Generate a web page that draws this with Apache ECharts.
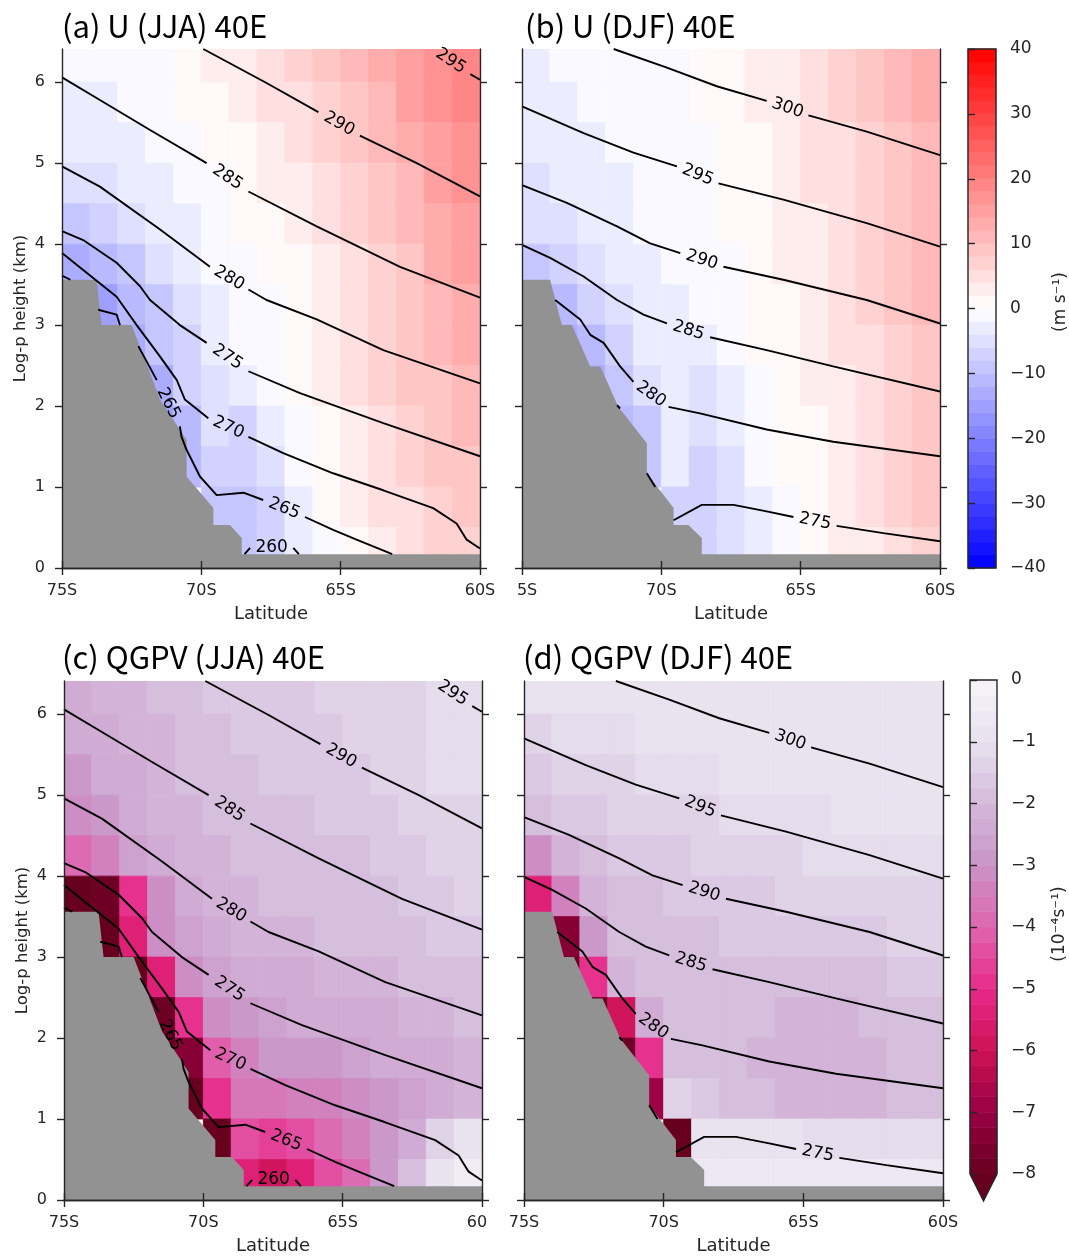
<!DOCTYPE html>
<html lang="en">
<head>
  <meta charset="UTF-8">
  <title>U and QGPV sections at 40E</title>
  <style>
    html, body {
      margin: 0;
      padding: 0;
      background: #fff;
    }
    #main {
      width: 1069px;
      height: 1256px;
    }
  </style>
  <script src="https://cdn.jsdelivr.net/npm/echarts@6.0.0/dist/echarts.min.js"></script>
</head>
<body>
<div id="main"></div>

<script>
  // grid of the shaded fields: cell centres (1 deg x 0.5 km), rows listed top to bottom
  var lats = [-74.5, -73.5, -72.5, -71.5, -70.5, -69.5, -68.5, -67.5, -66.5, -65.5, -64.5, -63.5, -62.5, -61.5, -60.5];
  var heights = [6.25, 5.75, 5.25, 4.75, 4.25, 3.75, 3.25, 2.75, 2.25, 1.75, 1.25, 0.75, 0.25];

  // zonal wind, m/s (null = below ground)
  var uJJA = [
    [-2, -1.5, -1, -0.3, 0.8, 2, 3.4, 5, 6.8, 8.7, 10.7, 12.9, 15, 17, 19.5],
    [-3, -2.4, -1.7, -0.9, 0, 1.2, 2.6, 4.1, 5.8, 7.7, 9.7, 11.8, 14, 16, 18],
    [-4, -3.3, -2.5, -1.5, -0.5, 0.6, 1.8, 3.2, 4.9, 6.7, 8.7, 10.8, 12.9, 15, 17],
    [-6, -5, -3.7, -2.4, -1.3, -0.2, 0.9, 2.3, 3.9, 5.7, 7.7, 9.8, 11.9, 14, 16],
    [-9, -7.5, -5.5, -3.7, -2.2, -1, 0, 1.3, 2.9, 4.7, 6.7, 8.8, 10.9, 13, 15],
    [-14, -12, -8.5, -5.8, -3.6, -2, -0.9, 0.2, 1.8, 3.6, 5.6, 7.7, 9.8, 12, 14],
    [null, -15, -12, -8.5, -5.5, -3.2, -1.6, -0.2, 1.6, 3.5, 5.4, 7.4, 9.4, 11.3, 13],
    [null, null, -13.5, -10, -6.5, -3.8, -2, -0.6, 1, 2.9, 4.8, 6.8, 8.7, 10.5, 12],
    [null, null, null, -14, -8, -4.5, -2.6, -1, 0.4, 2.2, 4.1, 6.1, 8, 9.8, 11],
    [null, null, null, -15, -11, -6, -7, -3, -0.2, 1.6, 3.5, 5.4, 7.2, 8.9, 10],
    [null, null, null, null, -11, -7, -8, -5, -1.5, 0.8, 2.8, 4.7, 6.5, 8, 9],
    [null, null, null, null, null, -10, -9, -7, -3, 0, 2.1, 4, 5.7, 7.1, 8],
    [null, null, null, null, null, null, -9.5, -8, -3.5, -0.5, 1.5, 3.4, 5, 6.4, 7.5]
  ];
  var uDJF = [
    [-2.5, -2, -1.6, -1.2, -0.7, -0.2, 0.5, 1.3, 2.3, 3.5, 5, 6.6, 8.4, 10.4, 12.5],
    [-2.8, -2.3, -1.9, -1.5, -1, -0.5, 0.2, 1, 2, 3.2, 4.6, 6.2, 8, 10, 12],
    [-3.3, -2.8, -2.3, -1.8, -1.3, -0.8, -0.1, 0.7, 1.7, 2.9, 4.3, 5.9, 7.6, 9.6, 11.6],
    [-4.3, -3.6, -2.9, -2.2, -1.6, -1.1, -0.4, 0.4, 1.4, 2.6, 4, 5.5, 7.2, 9.2, 11.2],
    [-6, -5, -3.8, -2.8, -2, -1.4, -0.7, 0.1, 1.1, 2.3, 3.6, 5.1, 6.8, 8.8, 10.8],
    [-9, -7.5, -5.2, -3.6, -2.6, -1.8, -1, -0.2, 0.8, 2, 3.3, 4.8, 6.5, 8.4, 10.4],
    [null, -11, -8, -5, -3.4, -2.3, -1.5, -0.6, 0.4, 1.6, 2.9, 4.4, 6.1, 8, 10],
    [null, -13, -11, -6.5, -4, -3, -3.5, -1.5, 0, 1.2, 2.5, 4, 5.7, 7.6, 9.6],
    [null, null, -13, -9, -5, -3, -5, -2.5, -0.5, 0.8, 2.1, 3.6, 5.3, 7.2, 9.2],
    [null, null, null, -12, -9, -3, -6, -3.5, -1, 0.4, 1.7, 3.2, 4.9, 6.8, 8.8],
    [null, null, null, null, -9.5, -3.5, -6.5, -4.5, -1.5, 0, 1.3, 2.8, 4.5, 6.4, 8.4],
    [null, null, null, null, null, -7, -7, -5.5, -2.5, -0.5, 0.9, 2.4, 4.1, 6, 8],
    [null, null, null, null, null, null, -6.5, -5, -2.5, -0.8, 0.5, 2, 3.7, 5.6, 7.8]
  ];

  // QGPV, 1e-4 /s
  var qJJA = [
    [-2.3, -2.2, -2.1, -2.0, -1.9, -1.7, -1.7, -1.6, -1.6, -1.5, -1.5, -1.4, -1.3, -1.2, -1.2],
    [-2.5, -2.3, -2.2, -2.1, -2.0, -1.8, -1.7, -1.7, -1.6, -1.6, -1.5, -1.4, -1.3, -1.2, -1.1],
    [-2.8, -2.5, -2.3, -2.1, -2.0, -1.9, -1.8, -1.7, -1.7, -1.6, -1.6, -1.5, -1.3, -1.2, -1.1],
    [-3.2, -2.8, -2.4, -2.2, -2.1, -2.0, -1.9, -1.8, -1.8, -1.7, -1.7, -1.6, -1.5, -1.4, -1.3],
    [-3.9, -3.3, -2.7, -2.3, -2.2, -2.1, -2.0, -1.9, -1.9, -1.8, -1.8, -1.7, -1.6, -1.5, -1.4],
    [-8.5, -8, -5, -3.2, -2.4, -2.2, -2.1, -2.0, -2.0, -1.9, -1.9, -1.8, -1.7, -1.6, -1.5],
    [null, -8.5, -5.5, -3.2, -2.6, -2.3, -2.2, -2.1, -2.1, -2.0, -2.0, -1.9, -1.8, -1.7, -1.6],
    [null, null, -8.5, -5.5, -3.2, -2.6, -2.4, -2.3, -2.3, -2.2, -2.2, -2.1, -2.0, -1.9, -1.8],
    [null, null, null, -8, -5, -3.2, -2.8, -2.6, -2.5, -2.4, -2.3, -2.3, -2.2, -2.1, -2.0],
    [null, null, null, -8.5, -7.5, -4.2, -3.4, -3, -2.9, -2.8, -2.7, -2.5, -2.4, -2.3, -2.2],
    [null, null, null, null, -8.5, -4.8, -3.6, -3.7, -3.5, -3.3, -3.1, -2.9, -2.7, -2.4, -2.1],
    [null, null, null, null, null, -8.5, -4.5, -4.6, -4.3, -3.9, -3.4, -2.9, -2.3, -1.5, -0.8],
    [null, null, null, null, null, null, -5.5, -6, -5.5, -4.5, -3.8, -3, -2, -1, -0.4]
  ];
  var qDJF = [
    [-1.0, -0.9, -0.9, -0.85, -0.85, -0.8, -0.8, -0.8, -0.8, -0.8, -0.8, -0.8, -0.8, -0.8, -0.8],
    [-1.3, -1.2, -1.1, -1.05, -1.0, -0.95, -0.9, -0.9, -0.85, -0.85, -0.85, -0.8, -0.8, -0.8, -0.8],
    [-1.6, -1.5, -1.4, -1.3, -1.25, -1.15, -1.1, -1.0, -0.95, -0.9, -0.9, -0.9, -0.85, -0.85, -0.85],
    [-2.0, -1.7, -1.6, -1.5, -1.45, -1.4, -1.3, -1.2, -1.15, -1.1, -1.05, -1.0, -1.0, -0.95, -0.95],
    [-3.2, -2.2, -1.8, -1.7, -1.6, -1.55, -1.5, -1.4, -1.35, -1.3, -1.25, -1.2, -1.15, -1.1, -1.1],
    [-5.5, -3.5, -2.2, -1.9, -1.8, -1.7, -1.65, -1.6, -1.55, -1.5, -1.45, -1.4, -1.35, -1.3, -1.3],
    [null, -7.5, -2.8, -2.0, -1.9, -1.8, -1.8, -1.75, -1.7, -1.7, -1.65, -1.6, -1.55, -1.5, -1.5],
    [null, -8.5, -5, -2.2, -2.0, -1.9, -1.9, -1.9, -1.85, -1.9, -1.9, -1.85, -1.8, -1.75, -1.7],
    [null, null, -8.5, -6, -2.3, -1.9, -2.0, -2.0, -2.0, -2.1, -2.1, -2.1, -2.0, -1.9, -1.8],
    [null, null, null, -8, -5, -1.9, -1.9, -2.0, -2.1, -2.2, -2.2, -2.2, -2.1, -2.0, -1.9],
    [null, null, null, null, -7, -1.5, -1.6, -1.9, -2.0, -2.1, -2.2, -2.2, -2.1, -2.0, -1.9],
    [null, null, null, null, null, -8.5, -1.0, -0.9, -0.9, -1.0, -1.1, -1.1, -1.1, -1.1, -1.1],
    [null, null, null, null, null, null, -0.7, -0.6, -0.6, -0.6, -0.6, -0.6, -0.6, -0.6, -0.6]
  ];

  // ground outline [lat, km]
  var terrainJJA = [[-75, 3.56], [-73.76, 3.56], [-73.58, 3.0], [-72.5, 3.0], [-71.48, 2.08], [-70.53, 1.58],
    [-70.53, 1.13], [-69.57, 0.74], [-69.57, 0.53], [-68.97, 0.53], [-68.55, 0.37], [-68.55, 0.17], [-60, 0.17]];
  var terrainDJF = [[-75, 3.56], [-73.99, 3.56], [-73.57, 3.0], [-73.21, 3.0], [-72.55, 2.49], [-72.19, 2.49],
    [-71.54, 1.99], [-70.52, 1.54], [-70.52, 1.17], [-69.56, 0.74], [-69.56, 0.53], [-69.03, 0.53],
    [-68.55, 0.37], [-68.55, 0.17], [-60, 0.17]];

  // potential temperature contours [lat, km], null = break in the line
  var jja295 = [[-61.75, 6.42], null, [-60.35, 6.1], [-60, 6.03]];
  var jja290 = [[-69.93, 6.41], [-67.66, 5.99], [-65.8, 5.63], null, [-64.31, 5.34], [-62.27, 5.0], [-60, 4.59]];
  var jja285 = [[-75, 6.06], [-73.64, 5.78], [-71.84, 5.41], [-69.81, 5.0], null, [-68.31, 4.65], [-65.86, 4.22], [-62.87, 3.72], [-60, 3.34]];
  var jja280 = [[-75, 4.96], [-73.64, 4.71], [-71.48, 4.18], [-69.69, 3.72], null, [-68.31, 3.44], [-67.66, 3.31], [-65.86, 3.07], [-63.47, 2.69], [-60, 2.28]];
  var jja275 = [[-75, 4.16], [-74.24, 4.05], [-73.04, 3.77], [-72.2, 3.48], [-71.84, 3.31], [-70.77, 3.0], [-69.81, 2.78], null,
    [-68.31, 2.43], [-66.46, 2.16], [-63.47, 1.79], [-60, 1.38]];
  var jja270 = [[-75, 3.89], [-74.24, 3.68], [-73.04, 3.35], [-72.32, 3.0], [-71.48, 2.61], [-70.88, 2.32], [-70.59, 2.08], [-69.75, 1.85], null,
    [-68.31, 1.62], [-67.06, 1.42], [-65.27, 1.17], [-63.47, 0.96], [-61.68, 0.74], [-60.84, 0.55], [-60.48, 0.35], [-60, 0.24]];
  var jja265 = [[-75, 3.61], [-74.7, 3.56], null, [-73.7, 3.19], [-73.04, 3.13], [-72.92, 3.0], null, [-72.26, 2.74], [-71.6, 2.32], null,
    [-70.77, 1.75], [-70.71, 1.62], [-70.53, 1.46], [-70.05, 1.13], [-69.45, 0.9], [-68.49, 0.93], [-67.78, 0.84], null,
    [-66.28, 0.63], [-65.27, 0.47], [-64.43, 0.35], [-63.15, 0.17]];
  var jja260 = [[-68.45, 0.17], [-68.25, 0.25], null, [-66.7, 0.25], [-66.5, 0.17]];

  var djf300 = [[-71.71, 6.41], [-69.8, 6.18], [-68.01, 5.95], [-66.22, 5.77], null, [-64.72, 5.59], [-62.63, 5.39], [-60, 5.1]];
  var djf295 = [[-75, 5.7], [-72.79, 5.37], [-71, 5.13], [-69.44, 4.96], null, [-67.95, 4.75], [-65.62, 4.55], [-62.63, 4.26], [-60, 3.97]];
  var djf290 = [[-75, 4.73], [-73.39, 4.51], [-71.59, 4.22], [-70.4, 4.01], [-69.32, 3.89], null, [-67.77, 3.72], [-65.62, 3.56], [-62.63, 3.31], [-60, 3.02]];
  var djf285 = [[-75, 3.99], [-73.99, 3.83], [-72.79, 3.6], [-71.59, 3.31], [-70.64, 3.13], [-69.8, 3.02], null,
    [-68.25, 2.85], [-66.22, 2.69], [-63.83, 2.49], [-60, 2.18]];
  var djf280 = [[-73.81, 3.31], [-72.91, 3.07], [-72.55, 2.88], [-72.07, 2.78], [-71.48, 2.49], [-71.0, 2.3], null,
    [-69.74, 1.99], [-68.61, 1.91], [-66.22, 1.71], [-63.83, 1.56], [-60, 1.38]];
  var djf275 = [[-71.59, 2.01], [-71.48, 1.97], null, [-70.52, 1.17], [-70.22, 1.0], null, [-69.56, 0.59], [-68.55, 0.78],
    [-67.41, 0.78], [-66.22, 0.7], [-65.26, 0.63], null, [-63.71, 0.52], [-62.03, 0.43], [-60, 0.33]];

  // inline contour labels: the two ends of the gap [lat1, km1, lat2, km2, value]
  var labelsJJA = [
    [-61.75, 6.42, -60.35, 6.1, 295],
    [-65.8, 5.63, -64.31, 5.34, 290],
    [-69.81, 5.0, -68.31, 4.65, 285],
    [-69.69, 3.72, -68.31, 3.44, 280],
    [-69.81, 2.78, -68.31, 2.43, 275],
    [-69.75, 1.85, -68.31, 1.62, 270],
    [-71.6, 2.32, -70.77, 1.75, 265],
    [-67.78, 0.84, -66.28, 0.63, 265],
    [-68.25, 0.25, -66.7, 0.25, 260]
  ];
  var labelsDJF = [
    [-66.22, 5.77, -64.72, 5.59, 300],
    [-69.44, 4.96, -67.95, 4.75, 295],
    [-69.32, 3.89, -67.77, 3.72, 290],
    [-69.8, 3.02, -68.25, 2.85, 285],
    [-71.0, 2.3, -69.74, 1.99, 280],
    [-65.26, 0.63, -63.71, 0.52, 275]
  ];

  var contoursJJA = [jja295, jja290, jja285, jja280, jja275, jja270, jja265, jja260];
  var contoursDJF = [djf300, djf295, djf290, djf285, djf280, djf275];

  var yTicks = [0, 1, 2, 3, 4, 5, 6];
  var uStep = 2;      // colour interval of U
  var qStep = 0.25;   // colour interval of QGPV

  // ---------------------------------------------------------------
  var FONT = 'DejaVu Sans';
  var INK = '#262626';
  var GROUND = '#929292';
  var dLat = lats[1] - lats[0];
  var dH = heights[0] - heights[1];

  function rgb(c) { return 'rgb(' + c.join(',') + ')'; }

  // matplotlib bwr
  function bwr(v) {
    var t = (v + 40) / 80, r, g, b;
    if (t < 0.5) { r = g = 2 * t; b = 1; } else { r = 1; g = b = 2 * (1 - t); }
    return rgb([Math.round(r * 255), Math.round(g * 255), Math.round(b * 255)]);
  }
  // matplotlib PuRd, used reversed over -8..0
  var puRd = [[247, 244, 249], [231, 225, 239], [212, 185, 218], [201, 148, 199], [223, 101, 176],
    [231, 41, 138], [206, 18, 86], [152, 0, 67], [103, 0, 31]];
  function puRdR(v) {
    var s = -v, i = Math.min(7, Math.floor(s)), f = s - i;
    return rgb(puRd[i].map(function (c0, k) { return Math.round(c0 + (puRd[i + 1][k] - c0) * f); }));
  }

  var uPieces = [], uBands = [];
  for (var lo = -40; lo < 40; lo += uStep) {
    uPieces.push({gte: lo, lt: lo + uStep, color: bwr(lo + uStep / 2)});
    uBands.push([lo, lo + uStep, lo + uStep / 2]);
  }
  var qPieces = [{lt: -8, color: rgb(puRd[8])}], qBands = [];
  for (var k = 0; k < 8 / qStep; k++) {
    var ql = -8 + k * qStep;
    qPieces.push({gte: ql, lt: ql + qStep, color: puRdR(ql + qStep / 2)});
    qBands.push([ql, ql + qStep, ql + qStep / 2]);
  }
  qPieces.push({gte: 0, color: '#ffffff'});

  function cells(rows) {
    var out = [];
    rows.forEach(function (row, r) {
      row.forEach(function (v, c) {
        if (v !== null) out.push([lats[c], heights[r], v]);
      });
    });
    return out;
  }

  function renderCell(params, api) {
    var lat = api.value(0), h = api.value(1);
    var p0 = api.coord([lat - dLat / 2, h + dH / 2]);
    var p1 = api.coord([lat + dLat / 2, h - dH / 2]);
    var cs = params.coordSys;
    var shape = echarts.graphic.clipRectByRect(
      {x: p0[0], y: p0[1], width: p1[0] - p0[0], height: p1[1] - p0[1]},
      {x: cs.x, y: cs.y, width: cs.width, height: cs.height});
    if (!shape) return;
    var c = api.visual('color');
    return {type: 'rect', shape: shape, style: {fill: c, stroke: c, lineWidth: 0.8}};
  }

  function renderLabel(params, api) {
    var a = api.coord([api.value(0), api.value(1)]);
    var b = api.coord([api.value(2), api.value(3)]);
    var ang = Math.atan2(b[1] - a[1], b[0] - a[0]);
    if (ang > Math.PI / 2) ang -= Math.PI;
    if (ang < -Math.PI / 2) ang += Math.PI;
    return {
      type: 'text', x: (a[0] + b[0]) / 2, y: (a[1] + b[1]) / 2, rotation: -ang,
      style: {text: String(api.value(4)), fill: '#000', font: '17px "' + FONT + '"',
        align: 'center', verticalAlign: 'middle', textAlign: 'center', textVerticalAlign: 'middle'}
    };
  }

  function renderBand(params, api) {
    var p0 = api.coord([0, api.value(1)]), p1 = api.coord([1, api.value(0)]);
    var c = api.visual('color');
    return {type: 'rect', shape: {x: p0[0], y: p0[1], width: p1[0] - p0[0], height: p1[1] - p0[1]},
      style: {fill: c, stroke: c, lineWidth: 0.6}};
  }

  function outline(extendPx, underColor) {
    return function (params, api) {
      var a = api.coord([0, api.value(1)]), b = api.coord([1, api.value(0)]);
      var pts = [[a[0], a[1]], [b[0], a[1]], [b[0], b[1]]];
      var kids = [];
      if (extendPx) {
        var tip = [(a[0] + b[0]) / 2, b[1] + extendPx];
        pts.push(tip);
        kids.push({type: 'polygon', shape: {points: [[a[0], b[1]], [b[0], b[1]], tip]}, style: {fill: underColor}});
      }
      pts.push([a[0], b[1]]);
      kids.push({type: 'polygon', shape: {points: pts}, style: {fill: 'none', stroke: INK, lineWidth: 1.4}});
      return {type: 'group', children: kids};
    };
  }

  function latLabel(v) { return Math.abs(v) + 'S'; }
  var hideRich = {hide: {color: 'rgba(0,0,0,0)', fontSize: 16, fontFamily: FONT}};

  var panels = [
    {grid: {left: 62, top: 49, width: 418, height: 519}, field: uJJA, terrain: terrainJJA,
      contours: contoursJJA, labels: labelsJJA, yLabels: true, fmt: latLabel},
    {grid: {left: 522, top: 49, width: 418, height: 519}, field: uDJF, terrain: terrainDJF,
      contours: contoursDJF, labels: labelsDJF, yLabels: false,
      fmt: function (v) { return v === -75 ? '{hide|7}5S' : latLabel(v); }},
    {grid: {left: 64, top: 681, width: 418, height: 519}, field: qJJA, terrain: terrainJJA,
      contours: contoursJJA, labels: labelsJJA, yLabels: true,
      fmt: function (v) { return v === -60 ? '60{hide|S}' : latLabel(v); }},
    {grid: {left: 524, top: 681, width: 419, height: 519}, field: qDJF, terrain: terrainDJF,
      contours: contoursDJF, labels: labelsDJF, yLabels: false, fmt: latLabel}
  ];

  var lineCommon = {color: INK, width: 1.4};
  var grids = [], xAxes = [], yAxes = [], series = [];

  panels.forEach(function (p, i) {
    grids.push(p.grid);
    xAxes.push({
      type: 'value', gridIndex: i, min: -75, max: -60, interval: 5, position: 'bottom', z: 10,
      axisLine: {lineStyle: lineCommon}, axisTick: {length: 7, lineStyle: lineCommon},
      axisLabel: {color: INK, fontSize: 16, fontFamily: FONT, margin: 15, formatter: p.fmt, rich: hideRich},
      splitLine: {show: false},
      name: 'Latitude', nameLocation: 'middle', nameGap: 37,
      nameTextStyle: {color: INK, fontSize: 18, fontFamily: FONT}
    });
    xAxes.push({
      type: 'value', gridIndex: i, min: -75, max: -60, interval: 5, position: 'top', z: 10,
      axisLine: {lineStyle: lineCommon}, axisTick: {length: 7, lineStyle: lineCommon},
      axisLabel: {show: false}, splitLine: {show: false}
    });
    yAxes.push({
      type: 'value', gridIndex: i, min: 0, max: 6.41, position: 'left', z: 10,
      axisLine: {show: true, lineStyle: lineCommon},
      axisTick: {show: true, length: 7, lineStyle: lineCommon, customValues: yTicks},
      axisLabel: {show: p.yLabels, color: INK, fontSize: 16, fontFamily: FONT, margin: 17, customValues: yTicks},
      splitLine: {show: false},
      name: p.yLabels ? 'Log-p height (km)' : '', nameLocation: 'middle', nameGap: 33,
      nameTextStyle: {color: INK, fontSize: 16.5, fontFamily: FONT}
    });
    yAxes.push({
      type: 'value', gridIndex: i, min: 0, max: 6.41, position: 'right', z: 10,
      axisLine: {show: true, lineStyle: lineCommon},
      axisTick: {show: true, length: 7, lineStyle: lineCommon, customValues: yTicks},
      axisLabel: {show: false}, splitLine: {show: false}
    });
  });

  // colorbar grids
  grids.push({left: 968, top: 49, width: 28, height: 519});
  grids.push({left: 970, top: 680, width: 27, height: 494});
  function cbarFmt(v) { return v < 0 ? '\u2212' + (-v) : String(v); }
  [[-40, 40, 10], [-8, 0, 1]].forEach(function (r, j) {
    xAxes.push({type: 'value', gridIndex: 4 + j, min: 0, max: 1, show: false});
    yAxes.push({
      type: 'value', gridIndex: 4 + j, min: r[0], max: r[1], interval: r[2], position: 'right', z: 10,
      axisLine: {show: false}, axisTick: {show: true, length: 7, lineStyle: lineCommon},
      axisLabel: {color: INK, fontSize: 17, fontFamily: FONT, margin: 14, formatter: cbarFmt},
      splitLine: {show: false}
    });
  });

  // shaded fields: series 0..3
  panels.forEach(function (p, i) {
    series.push({type: 'custom', xAxisIndex: 2 * i, yAxisIndex: 2 * i, data: cells(p.field),
      renderItem: renderCell, clip: true, silent: true, z: 1});
  });
  // colorbars: series 4..7
  series.push({type: 'custom', xAxisIndex: 8, yAxisIndex: 8, data: uBands, renderItem: renderBand, silent: true, z: 1});
  series.push({type: 'custom', xAxisIndex: 9, yAxisIndex: 9, data: qBands, renderItem: renderBand, silent: true, z: 1});
  series.push({type: 'custom', xAxisIndex: 8, yAxisIndex: 8, data: [[-40, 40]], renderItem: outline(0),
    clip: false, silent: true, z: 3});
  series.push({type: 'custom', xAxisIndex: 9, yAxisIndex: 9, data: [[-8, 0]], renderItem: outline(27, rgb(puRd[8])),
    clip: false, silent: true, z: 3});

  panels.forEach(function (p, i) {
    series.push({
      type: 'line', xAxisIndex: 2 * i, yAxisIndex: 2 * i, data: p.terrain, symbol: 'none',
      lineStyle: {width: 0}, areaStyle: {color: GROUND, opacity: 1}, silent: true, z: 2
    });
    p.contours.forEach(function (pts) {
      series.push({
        type: 'line', xAxisIndex: 2 * i, yAxisIndex: 2 * i, symbol: 'none', silent: true, z: 3,
        data: pts.map(function (q) { return q || ['-', '-']; }),
        lineStyle: {color: '#000', width: 1.9}
      });
    });
    series.push({type: 'custom', xAxisIndex: 2 * i, yAxisIndex: 2 * i, data: p.labels,
      renderItem: renderLabel, clip: false, silent: true, z: 4});
  });

  function title(text, x, y) {
    return {type: 'text', x: x, y: y, z: 20,
      style: {text: text, fill: '#000', font: '31px "Noto Sans CJK JP"',
        align: 'left', verticalAlign: 'middle', textAlign: 'left', textVerticalAlign: 'middle'}};
  }
  function unit(text, x, y) {
    return {type: 'text', x: x, y: y, rotation: Math.PI / 2, z: 20,
      style: {text: text, fill: INK, font: '17px "' + FONT + '"',
        align: 'center', verticalAlign: 'middle', textAlign: 'center', textVerticalAlign: 'middle'}};
  }

  var chartDom = document.getElementById('main');
  var myChart = echarts.init(chartDom);
  var option = {
    animation: false,
    backgroundColor: '#fff',
    grid: grids,
    xAxis: xAxes,
    yAxis: yAxes,
    visualMap: [
      {type: 'piecewise', show: false, dimension: 2, seriesIndex: [0, 1, 4], pieces: uPieces},
      {type: 'piecewise', show: false, dimension: 2, seriesIndex: [2, 3, 5], pieces: qPieces}
    ],
    series: series,
    graphic: [
      title('(a) U (JJA) 40E', 62, 26),
      title('(b) U (DJF) 40E', 525, 26),
      title('(c) QGPV (JJA) 40E', 62, 657),
      title('(d) QGPV (DJF) 40E', 523, 657),
      unit('(m s\u207B\u00B9)', 1061, 302),
      unit('(10\u207B\u2074s\u207B\u00B9)', 1060, 924)
    ]
  };
  myChart.setOption(option);
</script>
</body>
</html>
